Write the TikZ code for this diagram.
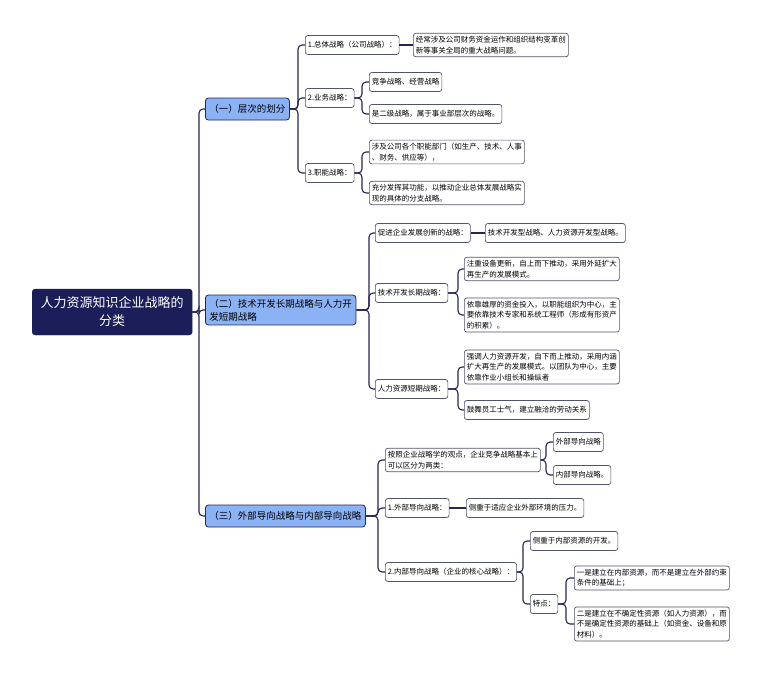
\documentclass[tikz,border=0pt]{standalone}
\usepackage{fontspec}
\setmainfont{Noto Sans CJK SC}
\definecolor{connc}{RGB}{38,38,78}
\definecolor{leafline}{RGB}{80,84,104}
\definecolor{lblue}{RGB}{140,178,246}
\definecolor{rootfill}{RGB}{27,30,88}
\tikzset{
  leaf/.style={draw=leafline, fill=white, rounded corners=2.5pt, line width=0.7pt,
    font=\fontsize{7.5}{10.5}\selectfont, inner xsep=2.5pt, inner ysep=3pt,
    minimum height=19pt, align=left, anchor=west},
  lone/.style={draw=connc, fill=lblue, rounded corners=3pt, line width=0.8pt,
    font=\fontsize{9.5}{13}\selectfont, inner xsep=4pt, inner ysep=4pt,
    minimum height=22pt, align=left, anchor=west},
  rootn/.style={draw=connc, fill=rootfill, text=white, rounded corners=3pt,
    font=\fontsize{13}{18}\selectfont, align=center, anchor=west,
    minimum width=160pt, minimum height=46pt, inner sep=2pt},
  conn/.style={draw=connc, line width=1.1pt, rounded corners=4pt}
}
\begin{document}
\begin{tikzpicture}[x=1pt,y=-1pt]
\useasboundingbox (0,0) rectangle (760,675);
% root and level 1
\node[rootn] (R) at (32,312) {人力资源知识企业战略的\\分类};
\node[lone] (A) at (205,109) {（一）层次的划分};
\node[lone] (B) at (205,310) {（二）技术开发长期战略与人力开\\发短期战略};
\node[lone] (C) at (205,516) {（三）外部导向战略与内部导向战略};
% A branch
\node[leaf] (A1) at (305,45) {1.总体战略（公司战略）：};
\node[leaf] (A1a) at (413,45) {经常涉及公司财务资金运作和组织结构变革创\\新等事关全局的重大战略问题。};
\node[leaf] (A2) at (305,98) {2.业务战略：};
\node[leaf] (A2a) at (369,82) {竞争战略、经营战略};
\node[leaf] (A2b) at (369,114) {是二级战略，属于事业部层次的战略。};
\node[leaf] (A3) at (305,173) {3.职能战略：};
\node[leaf] (A3a) at (369,152) {涉及公司各个职能部门（如生产、技术、人事\\、财务、供应等），};
\node[leaf] (A3b) at (369,193) {充分发挥其功能，以推动企业总体发展战略实\\现的具体的分支战略。};
% B branch
\node[leaf] (B1) at (375,233) {促进企业发展创新的战略：};
\node[leaf] (B1a) at (485,233) {技术开发型战略、人力资源开发型战略。};
\node[leaf] (B2) at (375,293) {技术开发长期战略：};
\node[leaf] (B2a) at (464,269) {注重设备更新，自上而下推动，采用外延扩大\\再生产的发展模式。};
\node[leaf] (B2b) at (464,315) {依靠雄厚的资金投入，以职能组织为中心，主\\要依靠技术专家和系统工程师（形成有形资产\\的积累）。};
\node[leaf] (B3) at (375,389) {人力资源短期战略：};
\node[leaf] (B3a) at (464,367) {强调人力资源开发，自下而上推动，采用内涵\\扩大再生产的发展模式。以团队为中心，主要\\依靠作业小组长和操纵者};
\node[leaf] (B3b) at (464,410) {鼓舞员工士气，建立融洽的劳动关系};
% C branch
\node[leaf] (C1) at (385,460) {按照企业战略学的观点，企业竞争战略基本上\\可以区分为两类：};
\node[leaf] (C1a) at (553,442) {外部导向战略};
\node[leaf] (C1b) at (553,475) {内部导向战略。};
\node[leaf] (C2) at (385,508) {1.外部导向战略：};
\node[leaf] (C2a) at (466,508) {侧重于适应企业外部环境的压力。};
\node[leaf] (C3) at (385,572) {2.内部导向战略（企业的核心战略）：};
\node[leaf] (C3a) at (530,541) {侧重于内部资源的开发。};
\node[leaf] (C3b) at (530,604) {特点：};
\node[leaf] (C3b1) at (574,578) {一是建立在内部资源，而不是建立在外部约束\\条件的基础上；};
\node[leaf] (C3b2) at (574,624) {二是建立在不确定性资源（如人力资源），而\\不是确定性资源的基础上（如资金、设备和原\\材料）。};
% trunk coordinates
\coordinate (tR) at (199,0);
\coordinate (tA) at (298,0);
\coordinate (tA2) at (362,0);
\coordinate (tB) at (369,0);
\coordinate (tB2) at (458,0);
\coordinate (tC) at (378,0);
\coordinate (tC1) at (546,0);
\coordinate (tC3) at (523,0);
\coordinate (tT) at (566,0);
% connectors
\foreach \c in {A,B,C} \draw[conn] (R.east) -- (R.east -| tR) |- (\c.west);
\foreach \c in {A1,A2,A3} \draw[conn] (A.east) -- (A.east -| tA) |- (\c.west);
\draw[conn] (A1.east) -- (A1a.west);
\foreach \c in {A2a,A2b} \draw[conn] (A2.east) -- (A2.east -| tA2) |- (\c.west);
\foreach \c in {A3a,A3b} \draw[conn] (A3.east) -- (A3.east -| tA2) |- (\c.west);
\foreach \c in {B1,B2,B3} \draw[conn] (B.east) -- (B.east -| tB) |- (\c.west);
\draw[conn] (B1.east) -- (B1a.west);
\foreach \c in {B2a,B2b} \draw[conn] (B2.east) -- (B2.east -| tB2) |- (\c.west);
\foreach \c in {B3a,B3b} \draw[conn] (B3.east) -- (B3.east -| tB2) |- (\c.west);
\foreach \c in {C1,C2,C3} \draw[conn] (C.east) -- (C.east -| tC) |- (\c.west);
\foreach \c in {C1a,C1b} \draw[conn] (C1.east) -- (C1.east -| tC1) |- (\c.west);
\draw[conn] (C2.east) -- (C2a.west);
\foreach \c in {C3a,C3b} \draw[conn] (C3.east) -- (C3.east -| tC3) |- (\c.west);
\foreach \c in {C3b1,C3b2} \draw[conn] (C3b.east) -- (C3b.east -| tT) |- (\c.west);
\end{tikzpicture}
\end{document}
